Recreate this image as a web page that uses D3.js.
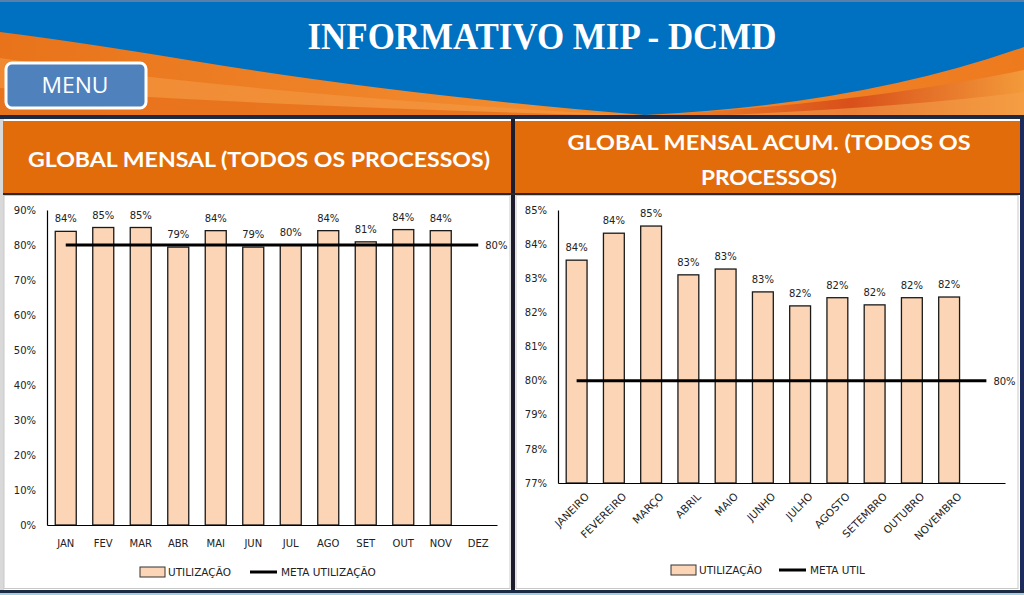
<!DOCTYPE html>
<html><head><meta charset="utf-8">
<script src="https://cdn.jsdelivr.net/npm/d3@7"></script>
<style>body{margin:0;background:#fff}svg{display:block}</style>
</head><body>
<svg id="c" width="1024" height="595"></svg>
<script>
// ---- data ----
const headerTitle = "INFORMATIVO MIP - DCMD";
const menuLabel = "MENU";
const leftTitle = "GLOBAL MENSAL (TODOS OS PROCESSOS)";
const rightTitleLines = ["GLOBAL MENSAL ACUM. (TODOS OS", "PROCESSOS)"];

const monthsShort = ["JAN","FEV","MAR","ABR","MAI","JUN","JUL","AGO","SET","OUT","NOV","DEZ"];
const monthlyUtil = [83.9, 85.0, 85.0, 79.4, 84.1, 79.4, 80.0, 84.1, 80.9, 84.4, 84.1];
const monthlyMeta = 80;
const leftTicks = [0,10,20,30,40,50,60,70,80,90];
const leftLegend = ["UTILIZAÇÃO", "META UTILIZAÇÃO"];

const monthsLong = ["JANEIRO","FEVEREIRO","MARÇO","ABRIL","MAIO","JUNHO","JULHO","AGOSTO","SETEMBRO","OUTUBRO","NOVEMBRO",""];
const accumUtil = [83.53, 84.32, 84.53, 83.10, 83.27, 82.60, 82.19, 82.43, 82.22, 82.43, 82.45];
const accumMeta = 80;
const rightTicks = [77,78,79,80,81,82,83,84,85];
const rightLegend = ["UTILIZAÇÃO", "META UTIL"];

// ---- drawing ----
const svg = d3.select("#c");
const defs = svg.append("defs");
const FONT = "DejaVu Sans, Verdana, sans-serif";
const BAR = "#FBD5B5";
const ORANGE = "#E36C0A";

// page background
svg.append("rect").attr("width",1024).attr("height",595).attr("fill","#fff");

// ---------- header ----------
const gOr = defs.append("linearGradient").attr("id","gor").attr("x1","0").attr("y1","0").attr("x2","1").attr("y2","0");
gOr.append("stop").attr("offset","0").attr("stop-color","#E8731A");
gOr.append("stop").attr("offset","0.5").attr("stop-color","#F28A2E");
gOr.append("stop").attr("offset","1").attr("stop-color","#EE7A1E");
const gRed = defs.append("linearGradient").attr("id","gred").attr("x1","0").attr("y1","0").attr("x2","1").attr("y2","0");
gRed.append("stop").attr("offset","0").attr("stop-color","#F08A2C");
gRed.append("stop").attr("offset","0.55").attr("stop-color","#D9501A");
gRed.append("stop").attr("offset","1").attr("stop-color","#F39A3A");

svg.append("rect").attr("x",0).attr("y",0).attr("width",1024).attr("height",117).attr("fill","url(#gor)");
// lighter streaks in orange
svg.append("path").attr("d","M0,58 Q260,95 640,116 L0,116 Z").attr("fill","#F49A45").attr("opacity",0.6);
svg.append("path").attr("d","M0,88 Q300,108 640,116 L0,116 Z").attr("fill","#E56A14").attr("opacity",0.7);
svg.append("path").attr("d","M640,116 Q860,104 1024,70 L1024,116 Z").attr("fill","url(#gred)");
svg.append("path").attr("d","M700,116 Q900,108 1024,92 L1024,116 Z").attr("fill","#F5A04A").attr("opacity",0.6);
// blue area
svg.append("path")
  .attr("d","M0,0 L1024,0 L1024,47 Q860,105 645,115 Q400,95 200,62 Q80,42 0,32 Z")
  .attr("fill","#0070C0");
svg.append("rect").attr("x",0).attr("y",0).attr("width",1024).attr("height",2).attr("fill","#5a7fa8");
svg.append("text").attr("x",542).attr("y",49).attr("text-anchor","middle")
  .attr("font-family","Liberation Serif, Times New Roman, serif").attr("font-weight","bold")
  .attr("font-size",38).attr("fill","#fff")
  .attr("textLength",469).attr("lengthAdjust","spacingAndGlyphs")
  .text(headerTitle);
// menu button
svg.append("rect").attr("x",6).attr("y",63).attr("width",140).attr("height",45).attr("rx",6)
  .attr("fill","#4F81BD").attr("stroke","#fff").attr("stroke-width",3);
svg.append("text").attr("x",75).attr("y",93).attr("text-anchor","middle")
  .attr("font-family","Open Sans, sans-serif").attr("font-size",22).attr("fill","#fff")
  .attr("textLength",67).attr("lengthAdjust","spacingAndGlyphs")
  .text(menuLabel);
// dark line under header
svg.append("rect").attr("x",0).attr("y",115).attr("width",1024).attr("height",4).attr("fill","#1c2a44");

// ---------- panel frames ----------
svg.append("rect").attr("x",0).attr("y",119).attr("width",4).attr("height",476).attr("fill","#d9d9d9");
svg.append("rect").attr("x",3).attr("y",121).attr("width",508).attr("height",72).attr("fill",ORANGE);
svg.append("rect").attr("x",515).attr("y",121).attr("width",505).attr("height",72).attr("fill",ORANGE);
svg.append("rect").attr("x",511).attr("y",119).attr("width",4).attr("height",476).attr("fill","#1c1c2c");
svg.append("rect").attr("x",1020).attr("y",119).attr("width",4).attr("height",476).attr("fill","#1c2a5c");
svg.append("rect").attr("x",3).attr("y",193).attr("width",1017).attr("height",2).attr("fill","#2a2a2a");
// chart areas
svg.append("rect").attr("x",4).attr("y",195.5).attr("width",506).attr("height",393).attr("fill","#fff").attr("stroke","#c8c8c8");
svg.append("rect").attr("x",516).attr("y",195.5).attr("width",502).attr("height",393).attr("fill","#fff").attr("stroke","#c8c8c8");
// bottom band
svg.append("rect").attr("x",0).attr("y",590).attr("width",1024).attr("height",3).attr("fill","#1c2a44");
svg.append("rect").attr("x",0).attr("y",593).attr("width",1024).attr("height",2).attr("fill","#A8CFE0");

// titles
svg.append("text").attr("x",259).attr("y",167).attr("text-anchor","middle")
  .attr("font-family","Lato, sans-serif").attr("font-weight","bold").attr("font-size",21)
  .attr("fill","#fff").attr("textLength",462).attr("lengthAdjust","spacingAndGlyphs").text(leftTitle);
svg.append("g").selectAll("text").data(rightTitleLines).join("text")
  .attr("x",769).attr("y",(d,i)=>150+i*35).attr("text-anchor","middle")
  .attr("font-family","Lato, sans-serif").attr("font-weight","bold").attr("font-size",21)
  .attr("fill","#fff")
  .attr("textLength",(d,i)=> i===0 ? 403 : 136).attr("lengthAdjust","spacingAndGlyphs")
  .text(d=>d);

const pct = v => Math.round(v) + "%";

function drawChart(opt){
  const g = svg.append("g");
  const x = d3.scaleBand().domain(opt.cats).range([opt.x0, opt.x1]).paddingInner(0.44).paddingOuter(0.22);
  const y = d3.scaleLinear().domain(opt.domain).range([opt.y0, opt.y1]);

  // y axis
  const ya = g.append("g").attr("transform",`translate(${opt.x0},0)`)
    .call(d3.axisLeft(y).tickValues(opt.ticks).tickFormat(d=>d+"%").tickSize(0).tickPadding(11));
  ya.select(".domain").attr("stroke","#000").attr("stroke-width",1.2);
  ya.selectAll("text").attr("font-family",FONT).attr("font-size",10).attr("fill","#222");

  // bars
  g.append("g").selectAll("rect").data(opt.values).join("rect")
    .attr("x",(d,i)=>x(opt.cats[i]))
    .attr("y",d=>y(d))
    .attr("width",x.bandwidth())
    .attr("height",d=>opt.y0 - y(d))
    .attr("fill",BAR).attr("stroke","#1a1a1a").attr("stroke-width",1.3);

  // x axis
  const xa = g.append("g").attr("transform",`translate(0,${opt.y0})`)
    .call(d3.axisBottom(x).tickSize(0).tickPadding(opt.rotate?8:15));
  xa.select(".domain").attr("stroke","#000").attr("stroke-width",1.2);
  xa.selectAll("text").attr("font-family",FONT).attr("font-size",10).attr("fill","#222");
  if(opt.rotate){
    xa.selectAll("text").attr("text-anchor","end").attr("dy","0.35em").attr("font-size",10.5)
      .attr("transform","translate(5,6) rotate(-45)");
  }

  // data labels
  g.append("g").selectAll("text").data(opt.values).join("text")
    .attr("x",(d,i)=>x(opt.cats[i]) + x.bandwidth()/2)
    .attr("y",d=>y(d) - 9)
    .attr("text-anchor","middle").attr("font-family",FONT).attr("font-size",10).attr("fill","#222")
    .text(pct);

  // meta line
  const c0 = x(opt.cats[0]) + x.bandwidth()/2;
  const c1 = x(opt.cats[opt.cats.length-1]) + x.bandwidth()/2;
  g.append("line").attr("x1",c0).attr("x2",c1).attr("y1",y(opt.meta)).attr("y2",y(opt.meta))
    .attr("stroke","#000").attr("stroke-width",3);
  g.append("text").attr("x",c1 + 7).attr("y",y(opt.meta) + 4)
    .attr("font-family",FONT).attr("font-size",10).attr("fill","#222").text(pct(opt.meta));

  // legend
  const L = opt.legend;
  g.append("rect").attr("x",L.x).attr("y",L.y-5).attr("width",25).attr("height",10)
    .attr("fill",BAR).attr("stroke","#333").attr("stroke-width",1);
  g.append("text").attr("x",L.x+28).attr("y",L.y+4).attr("font-family",FONT).attr("font-size",10.5)
    .attr("fill","#222").text(opt.legendText[0]);
  g.append("line").attr("x1",L.lx).attr("x2",L.lx+27).attr("y1",L.y).attr("y2",L.y)
    .attr("stroke","#000").attr("stroke-width",3);
  g.append("text").attr("x",L.lx+31).attr("y",L.y+4).attr("font-family",FONT).attr("font-size",10.5)
    .attr("fill","#222").text(opt.legendText[1]);
}

drawChart({cats:monthsShort, values:monthlyUtil, meta:monthlyMeta, ticks:leftTicks,
  domain:[0,90], x0:47, x1:497, y0:525, y1:210, rotate:false,
  legend:{x:140, y:572, lx:250}, legendText:leftLegend});

drawChart({cats:monthsLong, values:accumUtil, meta:accumMeta, ticks:rightTicks,
  domain:[77,85], x0:558, x1:1005, y0:483, y1:210, rotate:true,
  legend:{x:671, y:570, lx:779}, legendText:rightLegend});
</script>
</body></html>
